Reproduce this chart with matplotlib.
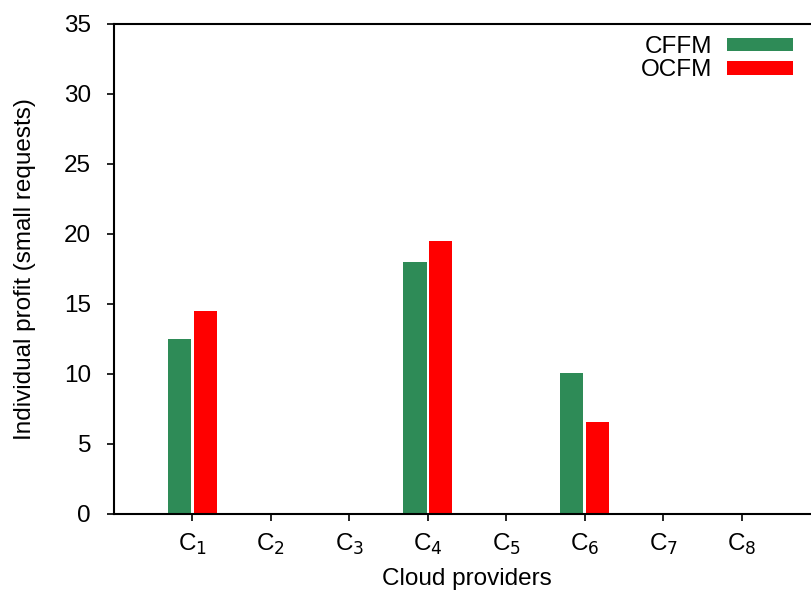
import matplotlib.pyplot as plt
import numpy as np

plt.rcParams['font.family'] = ['Liberation Sans', 'DejaVu Sans']

# profit per cloud provider, small requests
providers = ['C$_{%d}$' % i for i in range(1, 9)]
cffm = [12.5, 0, 0, 18.0, 0, 10.1, 0, 0]
ocfm = [14.5, 0, 0, 19.5, 0, 6.6, 0, 0]


def main():
	fs = 17.5
	fig = plt.figure(figsize=(8.12, 5.94), dpi=100)
	# axes runs past the right edge so the right border is not shown
	ax = fig.add_axes([114 / 812, 80 / 594, 706 / 812, 490 / 594])

	x = np.arange(1, len(providers) + 1)
	w = 0.3
	ax.bar(x - 0.165, cffm, w, color='#2e8b57', label='CFFM')
	ax.bar(x + 0.165, ocfm, w, color='#ff0000', label='OCFM')

	ax.set_xlim(0, 9)
	ax.set_ylim(0, 35)
	ax.set_xticks(x)
	ax.set_xticklabels(providers)
	ax.set_yticks(range(0, 36, 5))
	ax.tick_params(direction='out', length=5, width=1.2, labelsize=fs, colors='black')
	ax.tick_params(axis='x', pad=8)
	ax.tick_params(axis='y', pad=11.5)
	for s in ax.spines.values():
		s.set_linewidth(1.5)
	ax.spines['right'].set_visible(False)

	ax.set_xlabel('Cloud providers', fontsize=fs, labelpad=8)
	ax.set_ylabel('Individual profit (small requests)', fontsize=fs, labelpad=20)

	ax.legend(loc='upper right', bbox_to_anchor=(691 / 706, 1.0), frameon=False,
		markerfirst=False, fontsize=fs, handlelength=2.7, handleheight=0.5,
		handletextpad=0.6, labelspacing=0.05, borderaxespad=0.1)

	plt.savefig('out.png', dpi=100)


if __name__ == '__main__':
	main()
